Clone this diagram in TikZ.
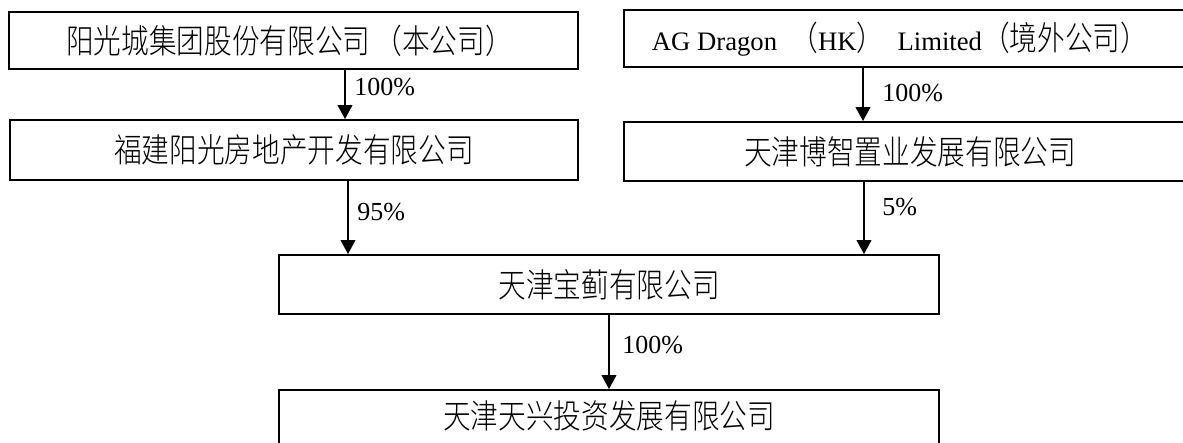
\documentclass[tikz,border=0pt]{standalone}
\usepackage{fontspec}
\setmainfont{Liberation Serif}
\newfontfamily\cjk[FakeStretch=0.83]{Noto Sans CJK SC Light}
\newcommand\cjkfs{\cjk\fontsize{25}{28}\selectfont}
\usetikzlibrary{arrows.meta}
\begin{document}
\begin{tikzpicture}[x=0.75pt,y=-0.75pt,
  box/.style={draw,line width=1.4pt,inner sep=0pt,font=\cjkfs},
  arr/.style={line width=1.4pt,-{Triangle[length=10.5pt,width=11pt]}},
  pct/.style={font=\fontsize{19.5}{22}\selectfont,anchor=west,inner sep=0pt}]
\useasboundingbox (0,0) rectangle (1183,443);
\clip (0,0) rectangle (1183,443);
% boxes
\node[box,minimum width=426.75pt,minimum height=42.75pt] (A) at (293.5,40.5) {阳光城集团股份有限公司\hspace{3pt}（本公司）\hspace*{6pt}};
\node[box,minimum width=426pt,minimum height=45pt] (B) at (294,150) {福建阳光房地产开发有限公司};
\node[box,minimum width=432pt,minimum height=42.75pt] (C) at (912,38.5) {};
\node[inner sep=0pt,font=\fontsize{20}{22}\selectfont] (Ct) at (900,39) {AG Dragon\hspace{10pt}{\cjkfs （}HK{\cjkfs ）}\hspace{10pt}Limited{\cjkfs （境外公司）}};
\node[box,minimum width=432pt,minimum height=44.25pt] (D) at (912,151.5) {\hspace*{-3pt}天津博智置业发展有限公司};
\node[box,minimum width=495pt,minimum height=44.25pt] (E) at (609,284.5) {天津宝蓟有限公司};
\node[box,minimum width=495pt,minimum height=67.5pt] (F) at (609,435) {};
\node[inner sep=0pt,font=\cjkfs] (Ft) at (609,416) {天津天兴投资发展有限公司};
% connector columns
\coordinate (xa) at (345,0);
\coordinate (xb) at (348,0);
\coordinate (xc) at (863,0);
\coordinate (xd) at (864,0);
\coordinate (xe) at (609,0);
\draw[arr] (xa |- A.south) -- (xa |- B.north);
\draw[arr] (xb |- B.south) -- (xb |- E.north);
\draw[arr] (xc |- C.south) -- (xc |- D.north);
\draw[arr] (xd |- D.south) -- (xd |- E.north);
\draw[arr] (xe |- E.south) -- (xe |- F.north);
% labels
\node[pct] (l1) at (354,87) {100\%};
\node[pct] (l2) at (357,212) {95\%};
\node[pct] (l3) at (882,93) {100\%};
\node[pct] (l4) at (882,207) {5\%};
\node[pct] (l5) at (622,345) {100\%};
\end{tikzpicture}
\end{document}
